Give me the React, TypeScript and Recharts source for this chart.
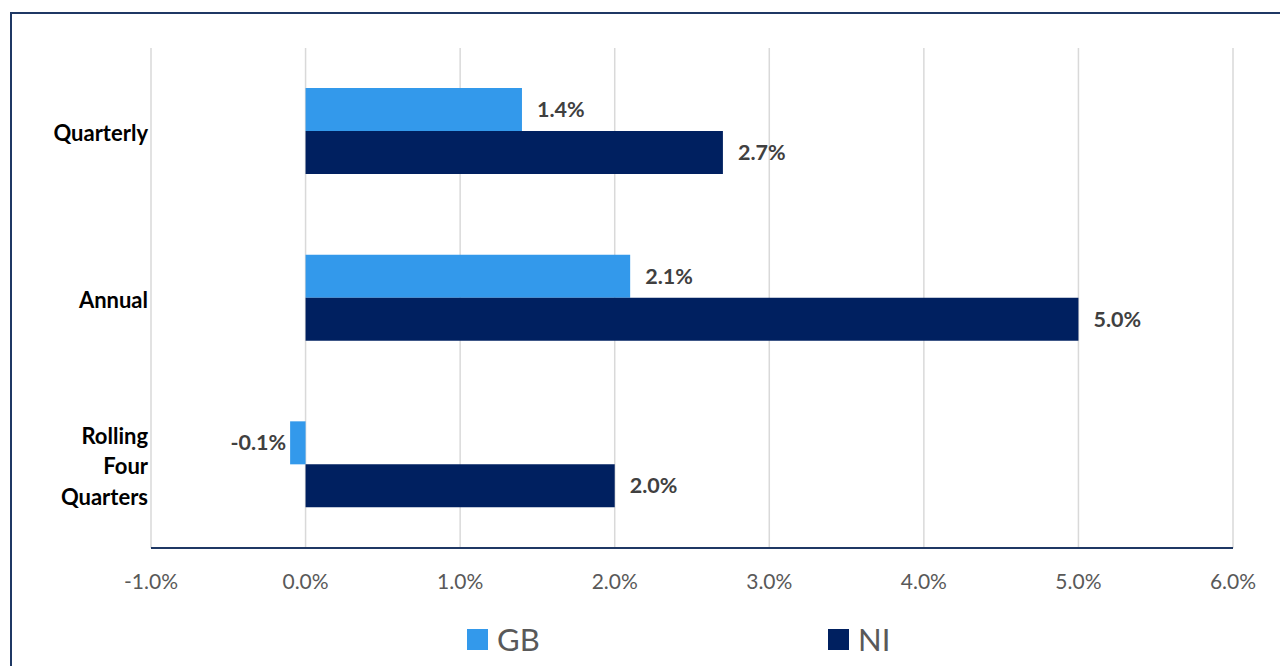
import React from 'react';
import { BarChart, Bar, XAxis, YAxis, CartesianGrid, Legend, LabelList } from 'recharts';

const categories = ['Quarterly', 'Annual', 'Rolling Four Quarters'];
const gbValues = [1.4, 2.1, -0.1];
const niValues = [2.7, 5.0, 2.0];
const xTicks = [-1, 0, 1, 2, 3, 4, 5, 6];
const seriesNames = ['GB', 'NI'];
const seriesColors = ['#3399EB', '#002060'];

const data = categories.map((name, i) => ({ name, GB: gbValues[i], NI: niValues[i] }));

const FONT = 'Lato, "Open Sans", sans-serif';

const fmt = (v: number) => `${v.toFixed(1)}%`;

const CategoryTick = (props: any) => {
  const { x, y, payload } = props;
  const words: string[] = String(payload.value).split(' ');
  const lh = 30.5;
  const start = -((words.length - 1) * lh) / 2 + 2;
  return (
    <g transform={`translate(${x},${y})`}>
      {words.map((w, i) => (
        <text
          key={i}
          x={0}
          y={start + i * lh}
          dy="0.35em"
          textAnchor="end"
          fontFamily={FONT}
          fontWeight={700}
          fontSize={22}
          fill="#000000"
        >
          {w}
        </text>
      ))}
    </g>
  );
};

const ValueLabel = (props: any) => {
  const { x, y, width, height, value } = props;
  const left = Math.min(x, x + width);
  const right = Math.max(x, x + width);
  const cy = y + height / 2;
  const neg = value < 0;
  return (
    <text
      x={neg ? left - 4 : right + 15}
      y={cy}
      dy="0.35em"
      textAnchor={neg ? 'end' : 'start'}
      fontFamily={FONT}
      fontWeight={700}
      fontSize={21.5}
      fill="#404040"
    >
      {fmt(value)}
    </text>
  );
};

const LegendContent = () => {
  const xs = [467, 828];
  return (
    <div style={{ position: 'relative', width: 1280, height: 50 }}>
      {seriesNames.map((n, i) => (
        <div
          key={n}
          style={{
            position: 'absolute',
            left: xs[i],
            top: 0,
            display: 'flex',
            alignItems: 'center',
            height: 50,
          }}
        >
          <span style={{ display: 'inline-block', width: 21, height: 21, background: seriesColors[i], marginRight: 9 }} />
          <span style={{ fontFamily: FONT, fontSize: 31, color: '#595959', lineHeight: '50px' }}>{n}</span>
        </div>
      ))}
    </div>
  );
};

export default function App() {
  return (
    <div style={{ position: 'absolute', left: 0, top: 0, width: 1280, height: 666, overflow: 'hidden', background: '#fff' }}>
      <div
        style={{
          position: 'absolute',
          left: 10,
          top: 12,
          width: 1300,
          height: 700,
          border: '2px solid #1F3864',
          boxSizing: 'border-box',
        }}
      />
      <BarChart
        width={1280}
        height={666}
        data={data}
        layout="vertical"
        margin={{ top: 48, right: 47, left: 0, bottom: 0 }}
        barCategoryGap="24%"
        barGap={0}
        style={{ position: 'absolute', left: 0, top: 0 }}
      >
        <CartesianGrid horizontal={false} vertical stroke="#D9D9D9" strokeWidth={1.5} />
        <XAxis
          type="number"
          domain={[-1, 6]}
          ticks={xTicks}
          tickFormatter={fmt}
          height={118}
          tickLine={false}
          tickSize={0}
          tickMargin={26}
          axisLine={{ stroke: '#1F3864', strokeWidth: 2 }}
          tick={{ fontFamily: FONT, fontSize: 21, fill: '#595959' }}
          interval={0}
          allowDataOverflow
        />
        <YAxis
          type="category"
          dataKey="name"
          width={151}
          tickLine={false}
          axisLine={false}
          tickSize={0}
          tickMargin={3}
          tick={<CategoryTick />}
          interval={0}
        />
        <Legend
          layout="horizontal"
          verticalAlign="middle"
          align="center"
          content={<LegendContent />}
          wrapperStyle={{ left: 0, top: 614, width: 1280, height: 50 }}
        />
        <Bar dataKey="GB" name={seriesNames[0]} fill={seriesColors[0]} isAnimationActive={false}>
          <LabelList dataKey="GB" content={<ValueLabel />} />
        </Bar>
        <Bar dataKey="NI" name={seriesNames[1]} fill={seriesColors[1]} isAnimationActive={false}>
          <LabelList dataKey="NI" content={<ValueLabel />} />
        </Bar>
      </BarChart>
    </div>
  );
}
